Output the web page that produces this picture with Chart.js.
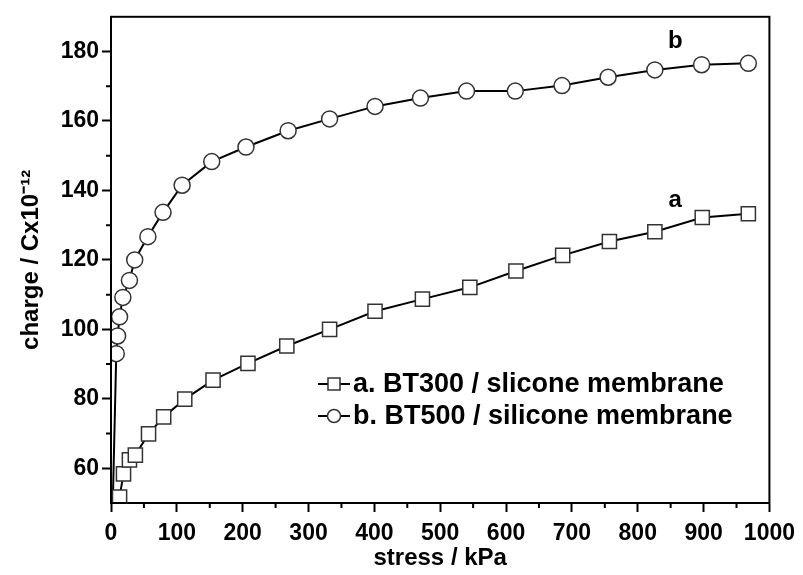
<!DOCTYPE html>
<html>
<head>
<meta charset="utf-8">
<script src="https://cdn.jsdelivr.net/npm/chart.js"></script>
<style>
  html, body { margin: 0; padding: 0; background: #fff; }
  #wrap { width: 803px; height: 575px; }
</style>
</head>
<body>
<div id="wrap"><canvas id="myChart" width="803" height="575"></canvas></div>
<script>
// curve a: BT300 / silicone membrane
const stressA = [4, 13, 19, 28, 37, 57, 80, 112, 155, 208, 267, 332, 401, 473, 545, 615, 686, 757, 826, 898, 968];
const chargeA = [30, 51.7, 58.4, 62.4, 63.8, 69.9, 74.8, 79.9, 85.4, 90.2, 95.2, 100, 105.2, 108.7, 112.1, 116.8, 121.3, 125.3, 128.1, 132.2, 133.3];
// curve b: BT500 / silicone membrane
const stressB = [0, 8, 10, 13, 18, 28, 36, 56, 79, 108, 153, 205, 269, 332, 401, 470, 540, 614, 685, 755, 826, 897, 968];
const chargeB = [28, 93, 98.1, 103.6, 109.2, 114.1, 120, 126.7, 133.7, 141.5, 148.3, 152.5, 157.2, 160.6, 164.2, 166.6, 168.6, 168.6, 170.2, 172.6, 174.7, 176.2, 176.6];

const seriesLabels = ['a. BT300 / slicone membrane', 'b. BT500 / silicone membrane'];
const seriesTags = ['a', 'b'];

const xTicks = [0, 100, 200, 300, 400, 500, 600, 700, 800, 900, 1000];
const yTicks = [60, 80, 100, 120, 140, 160, 180];
const xMinor = [50, 150, 250, 350, 450, 550, 650, 750, 850, 950];
const yMinor = [70, 90, 110, 130, 150, 170];

const FONT = "'Liberation Sans', Arial, sans-serif";

function toPoints(xs, ys) {
    return xs.map((x, i) => ({ x: x, y: ys[i] }));
}

// frame, minor ticks, curve tags and the line+symbol legend
const extras = {
    id: 'extras',
    afterDraw(chart) {
        const { ctx, chartArea: a, scales: { x, y } } = chart;
        ctx.save();
        ctx.strokeStyle = '#000';
        ctx.lineWidth = 2;
        ctx.strokeRect(a.left, a.top, a.right - a.left, a.bottom - a.top);
        ctx.beginPath();
        xMinor.forEach(v => {
            const px = x.getPixelForValue(v);
            ctx.moveTo(px, a.bottom);
            ctx.lineTo(px, a.bottom + 5);
        });
        yMinor.forEach(v => {
            const py = y.getPixelForValue(v);
            ctx.moveTo(a.left, py);
            ctx.lineTo(a.left - 5, py);
        });
        ctx.stroke();

        // tags next to the curve ends
        ctx.fillStyle = '#000';
        ctx.font = 'bold 24px ' + FONT;
        ctx.textAlign = 'center';
        ctx.textBaseline = 'middle';
        ctx.fillText(seriesTags[0], x.getPixelForValue(857), y.getPixelForValue(137));
        ctx.fillText(seriesTags[1], x.getPixelForValue(857), y.getPixelForValue(183));

        // legend
        const lx = 318, ly = 384, gap = 32;
        ctx.font = 'bold 27px ' + FONT;
        ctx.textAlign = 'left';
        chart.data.datasets.forEach((ds, i) => {
            const yy = ly + i * gap;
            ctx.strokeStyle = '#000';
            ctx.lineWidth = 2;
            ctx.beginPath();
            ctx.moveTo(lx, yy);
            ctx.lineTo(lx + 32, yy);
            ctx.stroke();
            ctx.fillStyle = '#fff';
            ctx.strokeStyle = '#333';
            ctx.lineWidth = 1.5;
            ctx.beginPath();
            if (ds.pointStyle === 'rect') {
                ctx.rect(lx + 16 - 6, yy - 6, 12, 12);
            } else {
                ctx.arc(lx + 16, yy, 6.5, 0, Math.PI * 2);
            }
            ctx.fill();
            ctx.stroke();
            ctx.fillStyle = '#000';
            ctx.fillText(ds.label, lx + 35, yy + 1);
        });
        ctx.restore();
    }
};

const ctx = document.getElementById('myChart').getContext('2d');
const chart = new Chart(ctx, {
    type: 'line',
    data: {
        datasets: [{
            label: seriesLabels[0],
            data: toPoints(stressA, chargeA),
            borderColor: '#000',
            borderWidth: 2,
            pointStyle: 'rect',
            pointRadius: 10,
            pointBorderWidth: 1.5,
            pointBorderColor: '#333',
            pointBackgroundColor: '#fff',
            tension: 0
        }, {
            label: seriesLabels[1],
            data: toPoints(stressB, chargeB),
            borderColor: '#000',
            borderWidth: 2,
            pointStyle: 'circle',
            pointRadius: 8,
            pointBorderWidth: 1.5,
            pointBorderColor: '#333',
            pointBackgroundColor: '#fff',
            tension: 0
        }]
    },
    options: {
        responsive: false,
        devicePixelRatio: 1,
        animation: false,
        layout: { padding: { top: 13, right: 33, left: 0, bottom: 0 } },
        plugins: {
            legend: { display: false },
            tooltip: { enabled: false }
        },
        scales: {
            x: {
                type: 'linear',
                min: 0,
                max: 1000,
                afterBuildTicks: s => { s.ticks = xTicks.map(v => ({ value: v })); },
                afterFit: s => { s.height = 72; },
                ticks: { color: '#000', font: { family: FONT, size: 23, weight: 'bold' }, padding: 8, maxRotation: 0, callback: v => String(v) },
                grid: { display: true, drawOnChartArea: false, drawTicks: true, tickLength: 9, tickWidth: 2, tickColor: '#000' },
                border: { display: true, color: '#000', width: 2 },
                title: { display: true, text: 'stress / kPa', color: '#000', font: { family: FONT, size: 24, weight: 'bold' }, padding: { top: 0, bottom: 2 } }
            },
            y: {
                type: 'linear',
                min: 50,
                max: 190,
                afterBuildTicks: s => { s.ticks = yTicks.map(v => ({ value: v })); },
                afterFit: s => { s.width = 111; },
                ticks: { color: '#000', font: { family: FONT, size: 23, weight: 'bold' }, padding: 3, callback: v => String(v) },
                grid: { display: true, drawOnChartArea: false, drawTicks: true, tickLength: 9, tickWidth: 2, tickColor: '#000' },
                border: { display: true, color: '#000', width: 2 },
                title: { display: true, text: 'charge / Cx10\u207B\u00B9\u00B2', color: '#000', font: { family: FONT, size: 24, weight: 'bold' }, padding: { top: 17, bottom: 0 } }
            }
        }
    },
    plugins: [extras]
});
</script>
</body>
</html>
